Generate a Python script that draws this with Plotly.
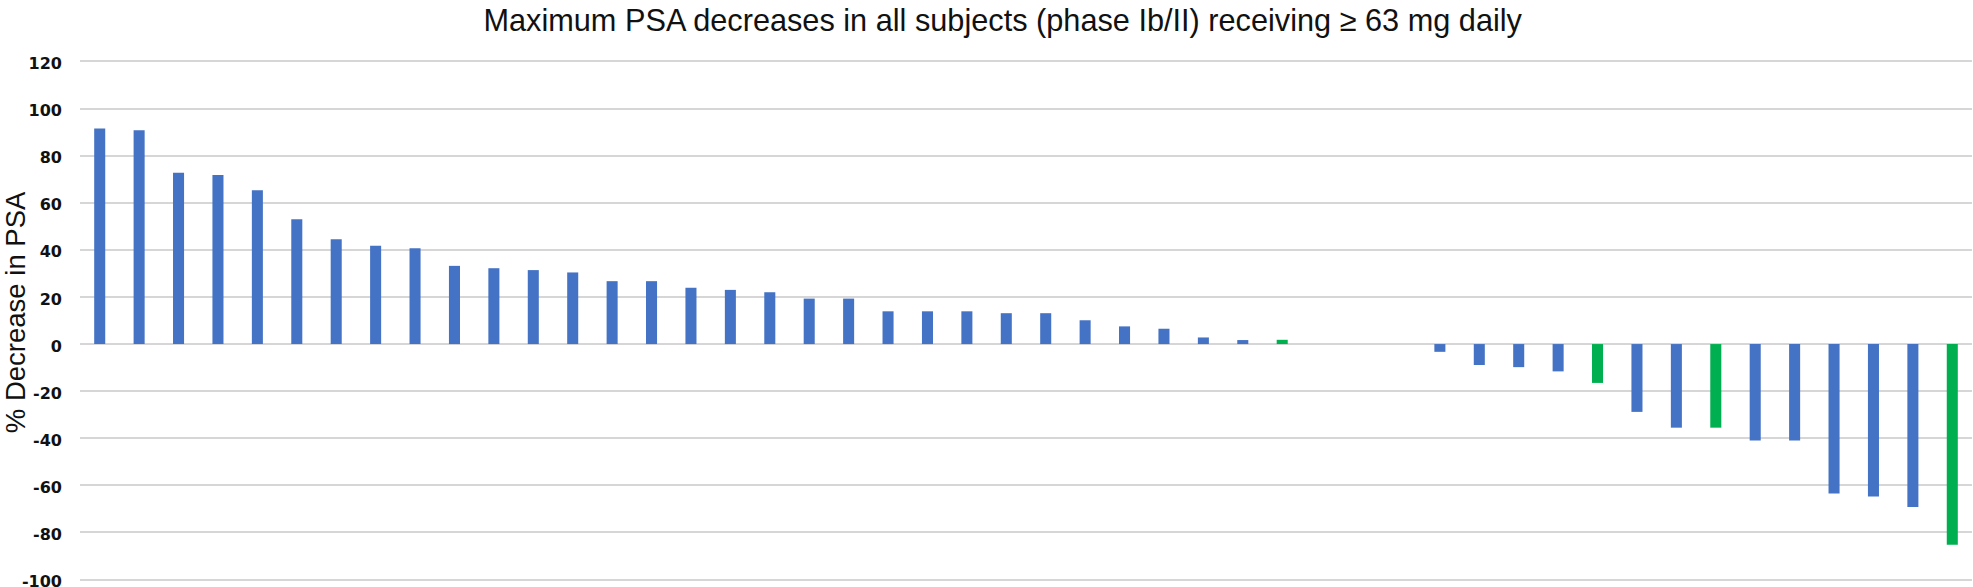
import plotly.graph_objects as go

# ---- data ----
subjects = list(range(1, 49))
psa_decrease = [
    91.5, 90.8, 72.7, 71.8, 65.3, 53.0, 44.5, 41.7, 40.7, 33.2,
    32.2, 31.4, 30.4, 26.7, 26.7, 23.9, 23.0, 22.0, 19.3, 19.3,
    13.9, 13.9, 13.9, 13.1, 13.1, 10.1, 7.5, 6.5, 2.8, 1.7,
    1.8, 0.0, 0.0, 0.0, -3.3, -8.9, -9.8, -11.6, -16.5, -28.8,
    -35.5, -35.5, -41.0, -41.0, -63.5, -64.7, -69.2, -85.2,
]
group = [
    "A", "A", "A", "A", "A", "A", "A", "A", "A", "A",
    "A", "A", "A", "A", "A", "A", "A", "A", "A", "A",
    "A", "A", "A", "A", "A", "A", "A", "A", "A", "A",
    "B", "A", "A", "A", "A", "A", "A", "A", "B", "A",
    "A", "B", "A", "A", "A", "A", "A", "B",
]
y_ticks = [120, 100, 80, 60, 40, 20, 0, -20, -40, -60, -80, -100]

# ---- styling ----
fill_map = {"A": "#4472C4", "B": "#00B050"}

W, H = 1973, 587
M_L, M_R, M_T, M_B = 80, 1, 60.3, 5.6
plot_w = W - M_L - M_R
plot_h = H - M_T - M_B

fig = go.Figure(
    go.Bar(
        x=subjects,
        y=psa_decrease,
        marker=dict(
            color=[fill_map[g] for g in group],
            line=dict(width=0),
        ),
        width=0.28,
        showlegend=False,
    )
)

fig.update_layout(
    width=W,
    height=H,
    paper_bgcolor="white",
    plot_bgcolor="white",
    margin=dict(l=M_L, r=M_R, t=M_T, b=M_B, autoexpand=False),
    title=dict(
        text="Maximum PSA decreases in all subjects (phase Ib/II) receiving ≥ 63 mg daily",
        font=dict(family="Liberation Sans, Arial, sans-serif", size=30.7, color="#111111"),
        x=1002.7 / W,
        xanchor="center",
        xref="container",
        y=1 - 20.5 / H,
        yanchor="middle",
        yref="container",
    ),
    xaxis=dict(
        range=[0.5, 48.5],
        showticklabels=False,
        showgrid=False,
        zeroline=False,
        showline=False,
        ticks="",
    ),
    yaxis=dict(
        range=[-100.6, 120.6],
        tickvals=y_ticks,
        ticktext=[str(v) for v in y_ticks],
        showgrid=True,
        gridcolor="#D6D6D6",
        gridwidth=2,
        zeroline=False,
        showline=False,
        ticks="",
        ticklabelstandoff=17,
        ticklabelshift=2,
        ticklabeloverflow="allow",
        tickfont=dict(family="DejaVu Sans, Verdana, sans-serif", size=16, color="#111111", weight="bold"),
        automargin=False,
    ),
    annotations=[
        dict(
            text="% Decrease in PSA",
            textangle=-90,
            xref="paper",
            yref="paper",
            x=(15.5 - M_L) / plot_w,
            y=1 - (313 - M_T) / plot_h,
            xanchor="center",
            yanchor="middle",
            showarrow=False,
            font=dict(family="Liberation Sans, Arial, sans-serif", size=27.5, color="#111111"),
        )
    ],
)

fig.write_html(
    "out.html",
    config={"displayModeBar": False},
    post_script="document.body.style.margin='0';document.body.style.overflow='hidden';",
)
